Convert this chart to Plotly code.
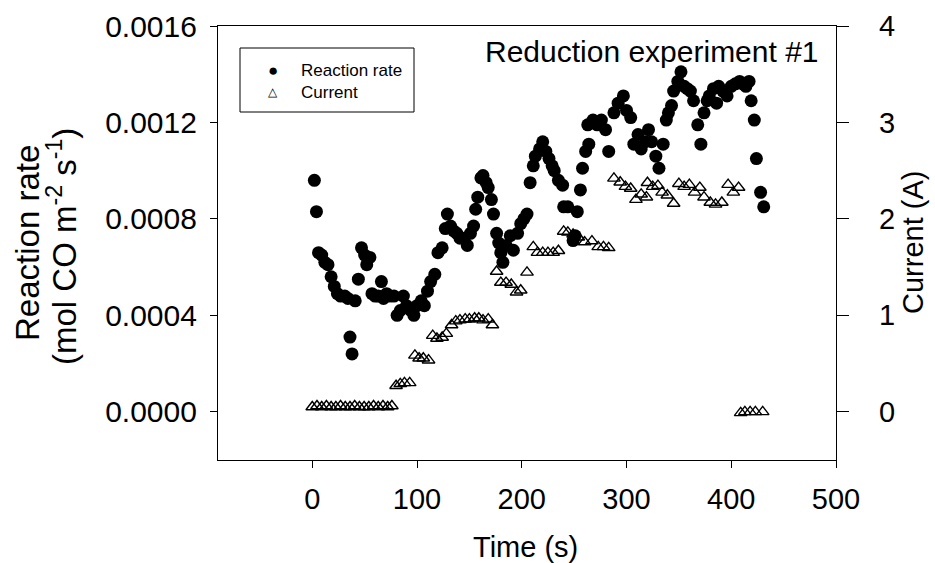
import plotly.graph_objects as go

# ---- data ----
rate_time = [2, 4, 6, 9, 12, 15, 18, 21, 24, 27, 31, 34, 36, 38, 41, 44, 47, 50, 52, 55,
             57, 60, 63, 66, 68, 71, 74, 78, 81, 84, 87, 90, 94, 97, 100, 104, 107, 110, 113, 117,
             120, 124, 127, 129, 132, 135, 138, 141, 145, 148, 151, 154, 156, 158, 161, 163, 166, 168, 171, 173,
             176, 178, 180, 182, 185, 189, 192, 196, 199, 202, 205, 208, 211, 213, 217, 220, 223, 226, 229, 231,
             235, 239, 240, 244, 249, 251, 253, 256, 258, 261, 263, 264, 268, 272, 276, 280, 283, 288, 292, 297,
             300, 304, 307, 311, 314, 318, 321, 324, 328, 331, 335, 338, 340, 343, 345, 349, 352, 355, 358, 361,
             364, 368, 371, 374, 377, 379, 383, 386, 388, 392, 396, 400, 404, 408, 411, 414, 417, 419, 422, 424,
             428, 431]
rate_value = [0.00096, 0.00083, 0.00066, 0.00065, 0.00062, 0.00061, 0.00056, 0.00052, 0.00049, 0.00048,
              0.00048, 0.00047, 0.00031, 0.00024, 0.00046, 0.00055, 0.00068, 0.00065, 0.00061, 0.00064,
              0.00049, 0.00048, 0.00048, 0.00054, 0.00047, 0.00049, 0.00048, 0.00048, 0.00040, 0.00042,
              0.00048, 0.00044, 0.00042, 0.00040, 0.00044, 0.00046, 0.00044, 0.00050, 0.00054, 0.00057,
              0.00066, 0.00068, 0.00076, 0.00082, 0.00077, 0.00075, 0.00074, 0.00072, 0.00072, 0.00069,
              0.00074, 0.00077, 0.00084, 0.00089, 0.00097, 0.00098, 0.00095, 0.00093, 0.00088, 0.00082,
              0.00074, 0.00070, 0.00066, 0.00062, 0.00069, 0.00073, 0.00067, 0.00074, 0.00078, 0.00080,
              0.00082, 0.00095, 0.00102, 0.00106, 0.00109, 0.00112, 0.00108, 0.00105, 0.00102, 0.00100,
              0.00096, 0.00094, 0.00085, 0.00085, 0.00071, 0.00073, 0.00083, 0.00092, 0.00101, 0.00108,
              0.00119, 0.00111, 0.00121, 0.00119, 0.00121, 0.00117, 0.00108, 0.00124, 0.00128, 0.00131,
              0.00125, 0.00122, 0.00111, 0.00115, 0.00109, 0.00112, 0.00117, 0.00112, 0.00106, 0.00101,
              0.00111, 0.00121, 0.00124, 0.00127, 0.00133, 0.00137, 0.00141, 0.00135, 0.00134, 0.00133,
              0.00129, 0.00119, 0.00111, 0.00124, 0.00129, 0.00131, 0.00134, 0.00128, 0.00135, 0.00133,
              0.00131, 0.00135, 0.00136, 0.00137, 0.00136, 0.00135, 0.00137, 0.00129, 0.00121, 0.00105,
              0.00091, 0.00085]

current_time = [0, 4.5, 9, 13.5, 18, 22.5, 27, 31.5, 36, 40.5, 45, 49.5, 54, 58.5, 63, 67.5, 72, 76,
                80, 84, 88, 93,
                98, 102, 106, 111,
                115, 119, 124, 128,
                133, 137, 141, 146, 150, 155, 159, 163, 168, 172,
                176, 180, 185, 190, 195, 199, 205,
                211, 215, 220, 225, 230, 235,
                240, 244, 249, 254, 260, 267, 273, 278, 283,
                288, 294, 299, 304, 309, 314, 319, 320, 325, 330, 334, 339, 345, 350, 355, 360, 365, 370,
                374, 380, 385, 391, 397, 402, 407,
                409, 413, 418, 423, 430]
current_value = [0.05, 0.06, 0.05, 0.06, 0.05, 0.05, 0.06, 0.05, 0.05, 0.06, 0.05, 0.05, 0.05, 0.06, 0.05, 0.06, 0.05, 0.06,
                 0.27, 0.29, 0.30, 0.30,
                 0.585, 0.555, 0.555, 0.535,
                 0.79, 0.76, 0.77, 0.81,
                 0.90, 0.94, 0.95, 0.96, 0.96, 0.97, 0.97, 0.95, 0.96, 0.90,
                 1.455, 1.34, 1.34, 1.32, 1.24, 1.26, 1.445,
                 1.71, 1.65, 1.65, 1.65, 1.65, 1.67,
                 1.87, 1.86, 1.84, 1.81, 1.76, 1.77, 1.71, 1.71, 1.70,
                 2.42, 2.38, 2.335, 2.315, 2.20, 2.255, 2.225, 2.375, 2.335, 2.345, 2.275, 2.245, 2.16, 2.365, 2.335, 2.355, 2.275, 2.325,
                 2.225, 2.17, 2.15, 2.17, 2.355, 2.275, 2.325,
                 -0.011, -0.001, -0.001, -0.001, -0.001]

x_ticks = [0, 100, 200, 300, 400, 500]
left_ticks = [0.0, 0.0004, 0.0008, 0.0012, 0.0016]
left_tick_labels = ["0.0000", "0.0004", "0.0008", "0.0012", "0.0016"]
right_ticks = [0, 1, 2, 3, 4]

FONT = "Liberation Sans, Arial, sans-serif"

# plot area in pixels (for placing texts in paper coordinates)
L, R, T, B = 218, 836, 26, 460
def px(x):
    return (x - L) / (R - L)
def py(y):
    return (B - y) / (B - T)

fig = go.Figure()
fig.add_trace(go.Scatter(
    x=rate_time, y=rate_value, mode="markers", name="Reaction rate", showlegend=False,
    marker=dict(symbol="circle", size=13, color="black", line=dict(width=0)),
))
fig.add_trace(go.Scatter(
    x=current_time, y=current_value, mode="markers", name="Current", yaxis="y2", showlegend=False,
    marker=dict(symbol="triangle-up-open", size=11, color="black", line=dict(width=1.4)),
))

axis_common = dict(showline=True, linecolor="black", linewidth=1.2, ticks="outside",
                   tickcolor="black", showgrid=False, zeroline=False, automargin=False)

def ann(text, x, y, size, xanchor="center", yanchor="middle", angle=0):
    return dict(text=text, xref="paper", yref="paper", x=px(x), y=py(y), xanchor=xanchor,
                yanchor=yanchor, showarrow=False, textangle=angle,
                font=dict(family=FONT, size=size, color="black"))

fig.update_layout(
    width=935, height=563,
    margin=dict(l=L, r=935 - R, t=T, b=563 - B, autoexpand=False),
    paper_bgcolor="white", plot_bgcolor="white",
    font=dict(family=FONT, color="black"),
    showlegend=False,
    xaxis=dict(range=[-90, 500], tickvals=x_ticks, ticklen=7, mirror=True,
               tickfont=dict(family=FONT, size=29, color="black"),
               ticklabelstandoff=6, **axis_common),
    yaxis=dict(range=[-0.0002, 0.0016], tickvals=left_ticks, ticktext=left_tick_labels, ticklen=7,
               tickfont=dict(family=FONT, size=30, color="black"),
               ticklabelstandoff=7, **axis_common),
    yaxis2=dict(range=[-0.5, 4], tickvals=right_ticks, overlaying="y", side="right", ticklen=12,
                tickfont=dict(family=FONT, size=29, color="black"),
                ticklabelstandoff=24, **axis_common),
    shapes=[dict(type="rect", xref="paper", yref="paper",
                 x0=px(240), x1=px(414), y0=py(112), y1=py(48),
                 line=dict(color="black", width=1), fillcolor="rgba(0,0,0,0)")],
    annotations=[
        ann("Reduction experiment #1", 821, 52, 30, xanchor="right"),
        ann("Time (s)", 525, 547, 29),
        ann("Reaction rate", 27, 243, 33, angle=-90),
        ann("(mol CO m<sup>-2</sup> s<sup>-1</sup>)", 62, 247, 33, angle=-90),
        ann("Current (A)", 913, 243, 29, angle=-90),
        # legend
        ann("\u25CF", 273, 70, 17),
        ann("Reaction rate", 299, 70, 17, xanchor="left"),
        ann("\u25B3", 273, 92, 12),
        ann("Current", 299, 92, 17, xanchor="left"),
    ],
)

fig.write_html("out.html")
